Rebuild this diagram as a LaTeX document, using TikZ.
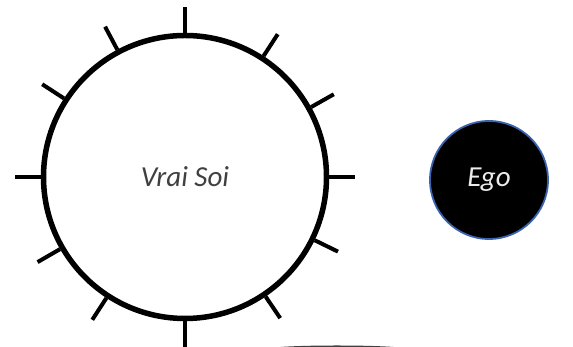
\documentclass[tikz,border=0pt]{standalone}
\usepackage{fontspec}
\usetikzlibrary{shapes.geometric}
\setmainfont{Carlito}
\definecolor{txtgray}{HTML}{404040}
\definecolor{egoblue}{HTML}{3A62AE}
\begin{document}
\begin{tikzpicture}[x=1pt,y=1pt,
  soibox/.style={circle, draw=black, line width=5.5pt, minimum size=283pt, inner sep=0pt,
    font=\fontsize{29}{34}\selectfont\itshape, text=txtgray},
  egobox/.style={circle, fill=black, draw=egoblue, line width=1.8pt, minimum size=118pt, inner sep=0pt,
    font=\fontsize{29}{34}\selectfont\itshape, text=white!92!black},
  tickline/.style={line width=4pt, black}]
\useasboundingbox (0,0) rectangle (573,347);
\node[soibox] (soi) at (185,170) {Vrai Soi};
\node[egobox] (ego) at (489,167) {Ego};
\foreach \a in {0,29.5,57,90,118,147,180,210,237,270,304,334}{
  \draw[tickline] (soi.\a) -- ++(\a:26);
}
\begin{scope}
\clip (0,0) rectangle (573,347);
\node[ellipse, fill=black!75, minimum width=130pt, minimum height=6pt, inner sep=0pt] (base) at (337,-1.5) {};
\end{scope}
\end{tikzpicture}
\end{document}
